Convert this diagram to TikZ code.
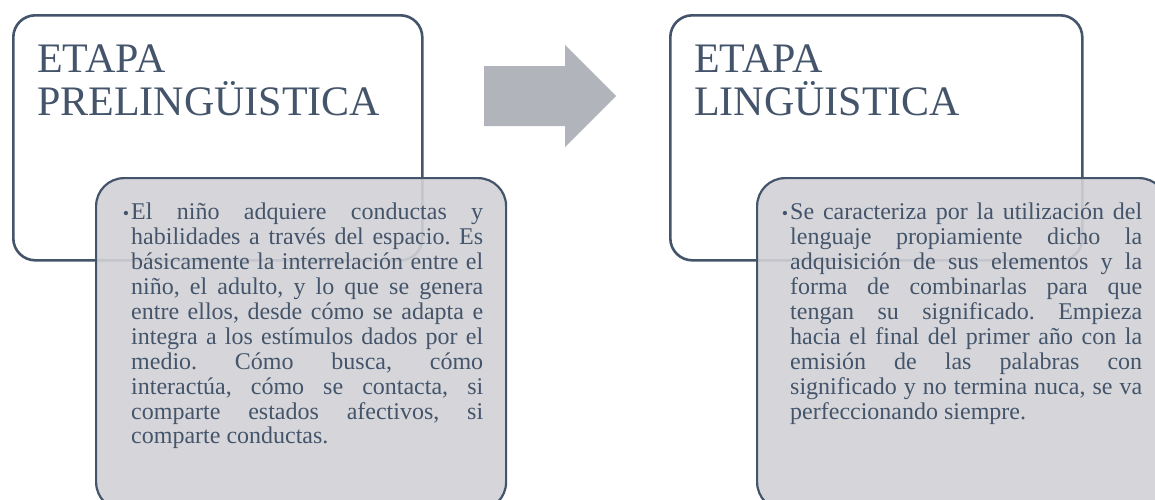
\documentclass[tikz,border=0pt]{standalone}
\usepackage{fontspec}
\setmainfont{Liberation Serif}
\usetikzlibrary{positioning}
\definecolor{etapablue}{HTML}{44546A}
\definecolor{notagray}{HTML}{D1D2D6}
\definecolor{flechagray}{HTML}{B1B4BA}
\tolerance=9999
\hbadness=10000
\hyphenpenalty=10000
\frenchspacing
\tikzset{x=1pt, y=-1pt,
    etapa/.style={draw=etapablue, line width=2.6pt, rounded corners=22pt,
        anchor=north west, inner sep=0pt},
    nota/.style={draw=etapablue, line width=2.2pt, rounded corners=28pt,
        anchor=north west, inner sep=0pt, fill=notagray, fill opacity=0.9,
        minimum width=410pt, minimum height=332pt},
    titulo/.style={text=etapablue, font=\fontsize{42}{43}\selectfont,
        align=left, inner sep=0pt},
    texto/.style={text=etapablue, font=\fontsize{24}{24.9}\selectfont,
        text width=352pt, align=justify, inner sep=0pt},
    }
\newcommand{\punto}{\noindent\llap{{\fontsize{18}{18}\selectfont\textbullet}\hspace{2pt}}}

\begin{document}
\begin{tikzpicture}
	\clip (0,0) rectangle (1155,499);
	% etapa prelinguistica
	\node[etapa, minimum width=409pt, minimum height=245pt] (pre) at (12,14) {};
	\node[titulo, below right=31pt and 25pt of pre.north west] (pretit)
		{ETAPA\\PRELINGÜISTICA};
	\node[nota] (prenota) at (95,177) {};
	\node[texto, below right=26pt and 36pt of prenota.north west] (pretxt)
		{\punto El niño adquiere conductas y\linebreak
		habilidades a través del espacio. Es\linebreak
		básicamente la interrelación entre el\linebreak
		niño, el adulto, y lo que se genera\linebreak
		entre ellos, desde cómo se adapta e\linebreak
		integra a los estímulos dados por el\linebreak
		medio. Cómo busca, cómo\linebreak
		interactúa, cómo se contacta, si\linebreak
		comparte estados afectivos, si\linebreak
		comparte conductas.};
	% flecha
	\fill[flechagray] (484,66) -- (565,66) -- (565,45) -- (616,96)
		-- (565,147) -- (565,126) -- (484,126) -- cycle;
	% etapa linguistica
	\node[etapa, minimum width=412pt, minimum height=245pt] (ling) at (669,14) {};
	\node[titulo, below right=31pt and 25pt of ling.north west] (lingtit)
		{ETAPA\\LINGÜISTICA};
	\node[nota] (lingnota) at (756,177) {};
	\node[texto, below right=26pt and 34pt of lingnota.north west] (lingtxt)
		{\punto Se caracteriza por la utilización del\linebreak
		lenguaje propiamiente dicho la\linebreak
		adquisición de sus elementos y la\linebreak
		forma de combinarlas para que\linebreak
		tengan su significado. Empieza\linebreak
		hacia el final del primer año con la\linebreak
		emisión de las palabras con\linebreak
		significado y no termina nuca, se va\linebreak
		perfeccionando siempre.};
\end{tikzpicture}
\end{document}
